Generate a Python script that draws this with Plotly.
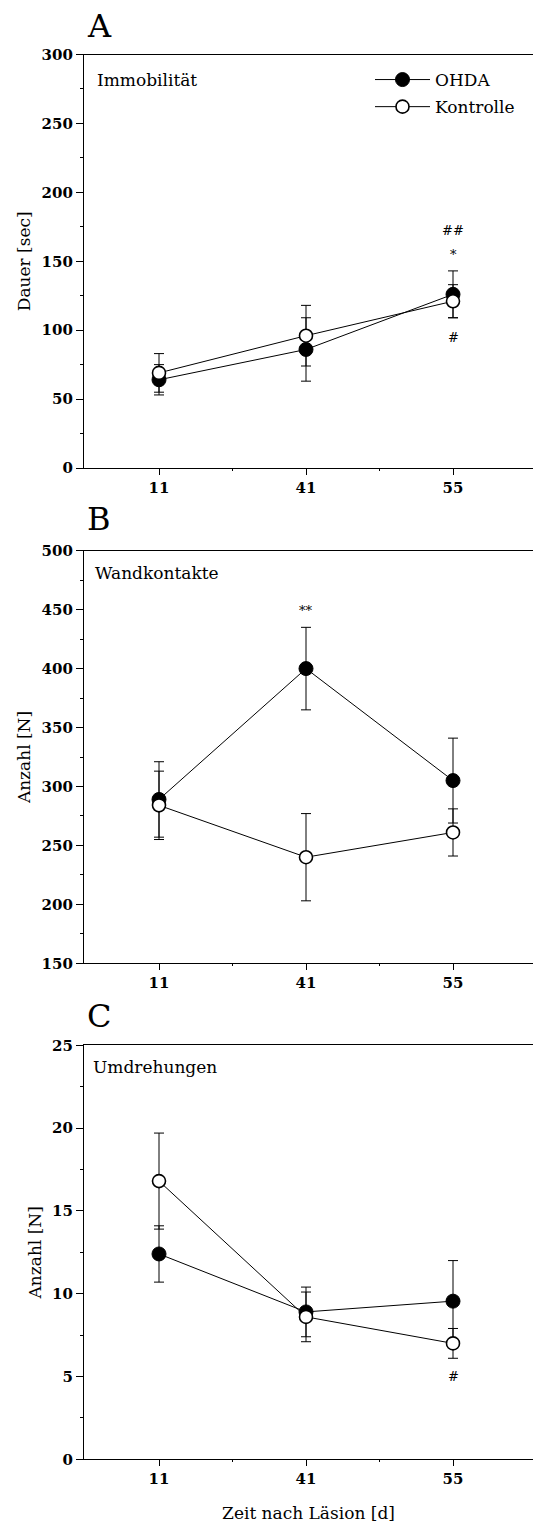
import plotly.graph_objects as go

# ---------------- data ----------------
days = ["11", "41", "55"]
xpos = [0, 1, 2]

# Panel A: Immobilität (Dauer [sec])
immo_ohda = [64, 86, 126]
immo_ohda_err = [11, 23, 17]
immo_kontr = [69, 96, 121]
immo_kontr_err = [14, 22, 12]

# Panel B: Wandkontakte (Anzahl [N])
wand_ohda = [289, 400, 305]
wand_ohda_err = [32, 35, 36]
wand_kontr = [284, 240, 261]
wand_kontr_err = [29, 37, 20]

# Panel C: Umdrehungen (Anzahl [N])
umd_ohda = [12.4, 8.9, 9.55]
umd_ohda_err = [1.7, 1.5, 2.45]
umd_kontr = [16.8, 8.6, 7.0]
umd_kontr_err = [2.9, 1.5, 0.9]

# significance marks: (panel, x index, y value, text)
sig_marks = [
    (1, 2, 172, "##"),
    (1, 2, 155, "*"),
    (1, 2, 95, "#"),
    (2, 1, 449, "**"),
    (3, 2, 5.0, "#"),
]

FONT = "DejaVu Serif"
TICKFONT = dict(family="DejaVu Serif", size=15, weight="bold", color="black")
W, H = 533, 1523
ML = 84

# panel pixel bounds (top, bottom)
panels = [(54.5, 468.0), (550.7, 963.3), (1045.3, 1459.3)]


def ydom(top, bottom):
    return [1 - bottom / H, 1 - top / H]


fig = go.Figure()

series = [
    (immo_ohda, immo_ohda_err, immo_kontr, immo_kontr_err),
    (wand_ohda, wand_ohda_err, wand_kontr, wand_kontr_err),
    (umd_ohda, umd_ohda_err, umd_kontr, umd_kontr_err),
]

for i, (o, oe, k, ke) in enumerate(series):
    ax = "" if i == 0 else str(i + 1)
    fig.add_trace(go.Scatter(
        x=xpos, y=o, mode="lines+markers", name="OHDA",
        xaxis="x" + ax, yaxis="y" + ax,
        line=dict(color="black", width=1),
        marker=dict(symbol="circle", size=14, color="black",
                    line=dict(color="black", width=1)),
        error_y=dict(type="data", array=oe, visible=True, color="black",
                     thickness=1, width=5),
        showlegend=(i == 0), legendgroup="ohda",
    ))
    fig.add_trace(go.Scatter(
        x=xpos, y=k, mode="lines+markers", name="Kontrolle",
        xaxis="x" + ax, yaxis="y" + ax,
        line=dict(color="black", width=1),
        marker=dict(symbol="circle", size=13, color="white",
                    line=dict(color="black", width=1.6)),
        error_y=dict(type="data", array=ke, visible=True, color="black",
                     thickness=1, width=5),
        showlegend=(i == 0), legendgroup="kontr",
    ))

yranges = [[0, 300], [150, 500], [0, 25]]
ydticks = [50, 50, 5]
ytitles = ["Dauer [sec]", "Anzahl [N]", "Anzahl [N]"]
xrange_ = [(ML - 159) / 147, (W - 159) / 147]

layout = dict(
    width=W, height=H,
    margin=dict(l=ML, r=0, t=0, b=0),
    paper_bgcolor="white", plot_bgcolor="white",
    font=dict(family=FONT, size=15, color="black"),
    showlegend=True,
    legend=dict(
        x=(370 - ML) / (W - ML), y=1 - 62 / H, xanchor="left", yanchor="top",
        font=dict(family=FONT, size=17, color="black"),
        bgcolor="rgba(0,0,0,0)", itemwidth=55, tracegroupgap=2,
        traceorder="grouped",
    ),
)

for i in range(3):
    ax = "" if i == 0 else str(i + 1)
    top, bottom = panels[i]
    layout["xaxis" + ax] = dict(
        domain=[0, 1], anchor="y" + ax, range=xrange_,
        tickmode="array", tickvals=xpos, ticktext=days,
        ticks="outside", ticklen=6, tickwidth=1, tickcolor="black",
        showline=True, linecolor="black", linewidth=1.3, mirror=True,
        showgrid=False, zeroline=False, automargin=False,
        tickfont=TICKFONT,
        minor=dict(tickvals=[0.5, 1.5], ticks="outside", ticklen=2,
                   tickcolor="black", showgrid=False),
        title=dict(text="Zeit nach Läsion [d]" if i == 2 else "",
                   font=dict(family=FONT, size=17), standoff=22),
    )
    layout["yaxis" + ax] = dict(
        domain=ydom(top, bottom), anchor="x" + ax, range=yranges[i],
        dtick=ydticks[i], tick0=0,
        ticks="outside", ticklen=7, tickwidth=1, tickcolor="black",
        showline=True, linecolor="black", linewidth=1.3,
        showgrid=False, zeroline=False, automargin=False,
        tickfont=TICKFONT,
        minor=dict(dtick=ydticks[i] / 2, ticks="outside", ticklen=3,
                   tickcolor="black", showgrid=False),
        title=dict(text=ytitles[i], font=dict(family=FONT, size=17),
                   standoff=6),
    )

fig.update_layout(**layout)

# panel letters and inner titles
letters = ["A", "B", "C"]
letter_y = [26, 519, 1016]
inner = ["Immobilität", "Wandkontakte", "Umdrehungen"]
inner_y = [80, 572.7, 1066.7]
inner_x = [95, 92.7, 90.7]
for i in range(3):
    fig.add_annotation(text=letters[i], xref="paper", yref="paper",
                       x=(99 - ML) / (W - ML), y=1 - letter_y[i] / H,
                       xanchor="center", yanchor="middle", showarrow=False,
                       font=dict(family=FONT, size=32, color="black"))
    fig.add_annotation(text=inner[i], xref="paper", yref="paper",
                       x=(inner_x[i] - ML) / (W - ML), y=1 - inner_y[i] / H,
                       xanchor="left", yanchor="middle", showarrow=False,
                       font=dict(family=FONT, size=17, color="black"))

for p, xi, yv, txt in sig_marks:
    ax = "" if p == 1 else str(p)
    fig.add_annotation(text=txt, xref="x" + ax, yref="y" + ax, x=xpos[xi], y=yv,
                       xanchor="center", yanchor="middle", showarrow=False,
                       font=dict(family=FONT, size=13, color="black"))

fig.write_html(
    "out.html",
    config={"displayModeBar": False},
    post_script="document.body.style.margin='0';"
                "document.body.style.overflow='hidden';",
)
